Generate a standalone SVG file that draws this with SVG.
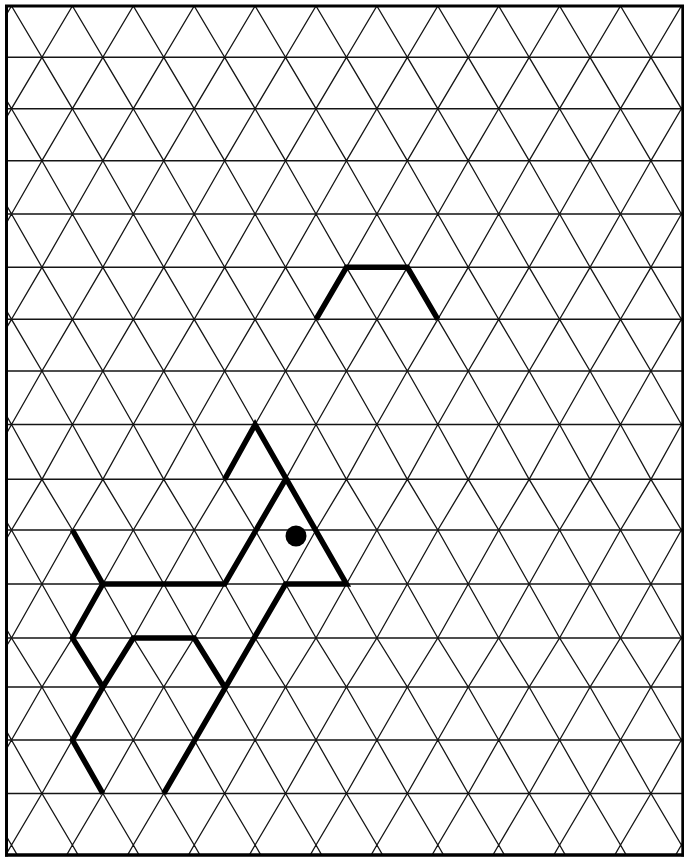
<svg xmlns="http://www.w3.org/2000/svg" width="684" height="858" viewBox="0 0 684 858">
<style>
.g{fill:none;stroke:#151515;stroke-width:1.3}
.h{fill:none;stroke:#151515;stroke-width:1.6}
.t{fill:none;stroke:#000;stroke-width:5.5;stroke-linejoin:miter;stroke-linecap:butt}
.b{fill:none;stroke:#000;stroke-width:3}
</style>
<defs>
<clipPath id="clip"><rect x="6" y="6" width="677" height="849"/></clipPath>
</defs>
<rect width="684" height="858" fill="#fff"/>
<g id="grid" clip-path="url(#clip)">
<g id="diagonals">
<polyline class="g" points="-18.95,57.3 11.5,6 41.95,57.3 72.4,6 102.85,57.3 133.3,6 163.75,57.3 194.2,6 224.65,57.3 255.1,6 285.55,57.3 316,6 346.45,57.3 376.9,6 407.35,57.3 437.8,6 468.25,57.3 498.7,6 529.15,57.3 559.6,6 590.05,57.3 620.5,6 650.95,57.3 681.4,6 711.85,57.3"/>
<polyline class="g" points="-18.95,57.3 11.5,108.7 41.95,57.3 72.4,108.7 102.85,57.3 133.3,108.7 163.75,57.3 194.2,108.7 224.65,57.3 255.1,108.7 285.55,57.3 316,108.7 346.45,57.3 376.9,108.7 407.35,57.3 437.8,108.7 468.25,57.3 498.7,108.7 529.15,57.3 559.6,108.7 590.05,57.3 620.5,108.7 650.95,57.3 681.4,108.7 711.85,57.3"/>
<polyline class="g" points="-18.95,160.7 11.5,108.7 41.95,160.7 72.4,108.7 102.85,160.7 133.3,108.7 163.75,160.7 194.2,108.7 224.65,160.7 255.1,108.7 285.55,160.7 316,108.7 346.45,160.7 376.9,108.7 407.35,160.7 437.8,108.7 468.25,160.7 498.7,108.7 529.15,160.7 559.6,108.7 590.05,160.7 620.5,108.7 650.95,160.7 681.4,108.7 711.85,160.7"/>
<polyline class="g" points="-18.95,160.7 11.5,214 41.95,160.7 72.4,214 102.85,160.7 133.3,214 163.75,160.7 194.2,214 224.65,160.7 255.1,214 285.55,160.7 316,214 346.45,160.7 376.9,214 407.35,160.7 437.8,214 468.25,160.7 498.7,214 529.15,160.7 559.6,214 590.05,160.7 620.5,214 650.95,160.7 681.4,214 711.85,160.7"/>
<polyline class="g" points="-18.95,267.3 11.5,214 41.95,267.3 72.4,214 102.85,267.3 133.3,214 163.75,267.3 194.2,214 224.65,267.3 255.1,214 285.55,267.3 316,214 346.45,267.3 376.9,214 407.35,267.3 437.8,214 468.25,267.3 498.7,214 529.15,267.3 559.6,214 590.05,267.3 620.5,214 650.95,267.3 681.4,214 711.85,267.3"/>
<polyline class="g" points="-18.95,267.3 11.5,319.3 41.95,267.3 72.4,319.3 102.85,267.3 133.3,319.3 163.75,267.3 194.2,319.3 224.65,267.3 255.1,319.3 285.55,267.3 316,319.3 346.45,267.3 376.9,319.3 407.35,267.3 437.8,319.3 468.25,267.3 498.7,319.3 529.15,267.3 559.6,319.3 590.05,267.3 620.5,319.3 650.95,267.3 681.4,319.3 711.85,267.3"/>
<polyline class="g" points="-18.95,371 11.5,319.3 41.95,371 72.4,319.3 102.85,371 133.3,319.3 163.75,371 194.2,319.3 224.65,371 255.1,319.3 285.55,371 316,319.3 346.45,371 376.9,319.3 407.35,371 437.8,319.3 468.25,371 498.7,319.3 529.15,371 559.6,319.3 590.05,371 620.5,319.3 650.95,371 681.4,319.3 711.85,371"/>
<polyline class="g" points="-18.95,371 11.5,424.5 41.95,371 72.4,424.5 102.85,371 133.3,424.5 163.75,371 194.2,424.5 224.65,371 255.1,424.5 285.55,371 316,424.5 346.45,371 376.9,424.5 407.35,371 437.8,424.5 468.25,371 498.7,424.5 529.15,371 559.6,424.5 590.05,371 620.5,424.5 650.95,371 681.4,424.5 711.85,371"/>
<polyline class="g" points="-18.95,479.3 11.5,424.5 41.95,479.3 72.4,424.5 102.85,479.3 133.3,424.5 163.75,479.3 194.2,424.5 224.65,479.3 255.1,424.5 285.55,479.3 316,424.5 346.45,479.3 376.9,424.5 407.35,479.3 437.8,424.5 468.25,479.3 498.7,424.5 529.15,479.3 559.6,424.5 590.05,479.3 620.5,424.5 650.95,479.3 681.4,424.5 711.85,479.3"/>
<polyline class="g" points="-18.95,479.3 11.5,530 41.95,479.3 72.4,530 102.85,479.3 133.3,530 163.75,479.3 194.2,530 224.65,479.3 255.1,530 285.55,479.3 316,530 346.45,479.3 376.9,530 407.35,479.3 437.8,530 468.25,479.3 498.7,530 529.15,479.3 559.6,530 590.05,479.3 620.5,530 650.95,479.3 681.4,530 711.85,479.3"/>
<polyline class="g" points="-18.95,584 11.5,530 41.95,584 72.4,530 102.85,584 133.3,530 163.75,584 194.2,530 224.65,584 255.1,530 285.55,584 316,530 346.45,584 376.9,530 407.35,584 437.8,530 468.25,584 498.7,530 529.15,584 559.6,530 590.05,584 620.5,530 650.95,584 681.4,530 711.85,584"/>
<polyline class="g" points="-18.95,584 11.5,638 41.95,584 72.4,638 102.85,584 133.3,638 163.75,584 194.2,638 224.65,584 255.1,638 285.55,584 316,638 346.45,584 376.9,638 407.35,584 437.8,638 468.25,584 498.7,638 529.15,584 559.6,638 590.05,584 620.5,638 650.95,584 681.4,638 711.85,584"/>
<polyline class="g" points="-18.95,687 11.5,638 41.95,687 72.4,638 102.85,687 133.3,638 163.75,687 194.2,638 224.65,687 255.1,638 285.55,687 316,638 346.45,687 376.9,638 407.35,687 437.8,638 468.25,687 498.7,638 529.15,687 559.6,638 590.05,687 620.5,638 650.95,687 681.4,638 711.85,687"/>
<polyline class="g" points="-18.95,687 11.5,740 41.95,687 72.4,740 102.85,687 133.3,740 163.75,687 194.2,740 224.65,687 255.1,740 285.55,687 316,740 346.45,687 376.9,740 407.35,687 437.8,740 468.25,687 498.7,740 529.15,687 559.6,740 590.05,687 620.5,740 650.95,687 681.4,740 711.85,687"/>
<polyline class="g" points="-18.95,793.5 11.5,740 41.95,793.5 72.4,740 102.85,793.5 133.3,740 163.75,793.5 194.2,740 224.65,793.5 255.1,740 285.55,793.5 316,740 346.45,793.5 376.9,740 407.35,793.5 437.8,740 468.25,793.5 498.7,740 529.15,793.5 559.6,740 590.05,793.5 620.5,740 650.95,793.5 681.4,740 711.85,793.5"/>
<polyline class="g" points="-18.95,793.5 11.5,845 41.95,793.5 72.4,845 102.85,793.5 133.3,845 163.75,793.5 194.2,845 224.65,793.5 255.1,845 285.55,793.5 316,845 346.45,793.5 376.9,845 407.35,793.5 437.8,845 468.25,793.5 498.7,845 529.15,793.5 559.6,845 590.05,793.5 620.5,845 650.95,793.5 681.4,845 711.85,793.5"/>
<polyline class="g" points="-18.95,898 11.5,845 41.95,898 72.4,845 102.85,898 133.3,845 163.75,898 194.2,845 224.65,898 255.1,845 285.55,898 316,845 346.45,898 376.9,845 407.35,898 437.8,845 468.25,898 498.7,845 529.15,898 559.6,845 590.05,898 620.5,845 650.95,898 681.4,845 711.85,898"/>
</g>
<g id="horizontals">
<path class="h" d="M6 57.3H683M6 108.7H683M6 160.7H683M6 214H683M6 267.3H683M6 319.3H683M6 371H683M6 424.5H683M6 479.3H683M6 530H683M6 584H683M6 638H683M6 687H683M6 740H683M6 793.5H683"/>
</g>
</g>
<g id="border">
<path class="b" d="M6.5 6H683.5M6.5 4.5V856.5M682.8 4.5V856.5"/>
<path fill="none" stroke="#000" stroke-width="3.6" d="M5 855H684"/>
</g>
<g id="figure-top">
<polyline class="t" points="316,319.3 346.45,267.3 407.35,267.3 437.8,319.3"/>
</g>
<g id="figure-bottom">
<polyline class="t" points="224.65,479.3 255.1,424.5 346.45,584 285.55,584 163.75,793.5"/>
<polyline class="t" points="72.4,530 102.85,584 224.65,584 285.55,479.3"/>
<polyline class="t" points="102.85,584 72.4,638 102.85,687 72.4,740 102.85,793.5"/>
<polyline class="t" points="102.85,687 133.3,638 194.2,638 224.65,687"/>
</g>
<g id="dot">
<circle cx="296" cy="536" r="10.5" fill="#000"/>
</g>
</svg>
